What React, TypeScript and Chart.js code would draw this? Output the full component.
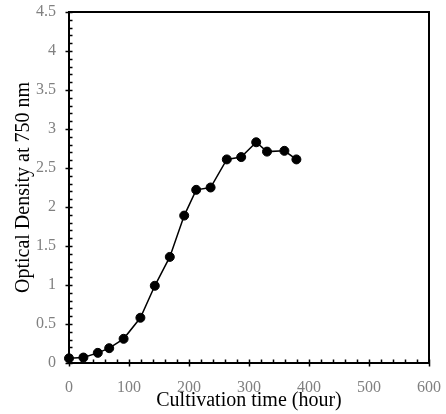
import React, { useEffect, useRef } from "react";
import { Chart, registerables } from "chart.js";

Chart.register(...registerables);

const hours = [0, 24, 48, 67, 91, 119, 143, 168, 192, 212, 236, 263, 287, 312, 330, 359, 379];
const od = [0.06, 0.07, 0.13, 0.19, 0.31, 0.58, 0.99, 1.36, 1.89, 2.22, 2.25, 2.61, 2.64, 2.83, 2.71, 2.72, 2.61];
const xMajor = [0, 100, 200, 300, 400, 500, 600];
const yMajor = [0, 0.5, 1, 1.5, 2, 2.5, 3, 3.5, 4, 4.5];
const yLabels = ["0", "0.5", "1", "1.5", "2", "2.5", "3", "3.5", "4", "4.5"];
const xMinorStep = 20;
const yMinorStep = 0.1;

const framePlugin = {
  id: "frame",
  beforeDatasetsDraw(chart: any) {
    const { ctx, chartArea, scales } = chart;
    const { left, right, top, bottom } = chartArea;
    const x = scales.x;
    const y = scales.y;
    ctx.save();
    ctx.strokeStyle = "#000";
    ctx.lineWidth = 2;
    ctx.strokeRect(left, top, right - left, bottom - top);
    ctx.lineWidth = 1.5;
    ctx.beginPath();
    const yMax = yMajor[yMajor.length - 1];
    for (let i = 0; i * yMinorStep <= yMax + 1e-9; i++) {
      const py = Math.round(y.getPixelForValue(i * yMinorStep)) + 0.5;
      ctx.moveTo(left, py);
      ctx.lineTo(left + 3.5, py);
    }
    yMajor.forEach((v) => {
      const py = Math.round(y.getPixelForValue(v)) + 0.5;
      ctx.moveTo(left - 3.5, py);
      ctx.lineTo(left + 3.5, py);
    });
    const xMax = xMajor[xMajor.length - 1];
    for (let i = 0; i * xMinorStep <= xMax + 1e-9; i++) {
      const px = Math.round(x.getPixelForValue(i * xMinorStep)) + 0.5;
      ctx.moveTo(px, bottom);
      ctx.lineTo(px, bottom - 3.5);
    }
    xMajor.forEach((v) => {
      const px = Math.round(x.getPixelForValue(v)) + 0.5;
      ctx.moveTo(px, bottom - 3.5);
      ctx.lineTo(px, bottom + 3.5);
    });
    ctx.stroke();
    ctx.restore();
  },
};

const serif = "'Liberation Serif', 'Times New Roman', serif";

export default function App() {
  const ref = useRef<HTMLCanvasElement | null>(null);
  useEffect(() => {
    if (!ref.current) return;
    const chart = new Chart(ref.current, {
      type: "line",
      data: {
        datasets: [
          {
            data: hours.map((h, i) => ({ x: h, y: od[i] })),
            borderColor: "#000",
            backgroundColor: "#000",
            borderWidth: 1.5,
            pointRadius: 4.5,
            pointBorderWidth: 1,
            pointBackgroundColor: "#000",
            pointBorderColor: "#000",
            tension: 0,
            clip: false as any,
          },
        ],
      },
      options: {
        animation: false,
        responsive: false,
        devicePixelRatio: 1,
        layout: { padding: { left: 0, top: 12, right: 17, bottom: 0 } },
        plugins: { legend: { display: false }, tooltip: { enabled: false } },
        scales: {
          x: {
            type: "linear",
            min: 0,
            max: 600,
            afterFit: (s: any) => {
              s.height = 51;
              s.paddingLeft = 0;
              s.paddingRight = 0;
            },
            afterBuildTicks: (s: any) => {
              s.ticks = xMajor.map((v) => ({ value: v }));
            },
            grid: { display: false, drawTicks: false },
            border: { display: false },
            ticks: {
              color: "#808080",
              font: { family: serif, size: 16 },
              padding: 15,
              maxRotation: 0,
            },
            title: {
              display: true,
              text: "Cultivation time (hour)",
              color: "#000",
              font: { family: serif, size: 20 },
              padding: { top: 0, bottom: 1 },
            },
          },
          y: {
            type: "linear",
            min: 0,
            max: 4.5,
            afterFit: (s: any) => {
              s.width = 69;
              s.paddingTop = 0;
              s.paddingBottom = 0;
            },
            afterBuildTicks: (s: any) => {
              s.ticks = yMajor.map((v) => ({ value: v }));
            },
            grid: { display: false, drawTicks: false },
            border: { display: false },
            ticks: {
              color: "#808080",
              font: { family: serif, size: 16 },
              padding: 13,
              callback: (_v: any, i: number) => yLabels[i],
            },
            title: {
              display: true,
              text: "Optical Density at 750 nm",
              color: "#000",
              font: { family: serif, size: 20 },
              padding: { top: 12, bottom: 0 },
            },
          },
        },
      },
      plugins: [framePlugin],
    });
    return () => chart.destroy();
  }, []);
  return (
    <div style={{ position: "fixed", left: 0, top: 0, width: 446, height: 414, background: "#fff" }}>
      <canvas ref={ref} width={446} height={414} style={{ display: "block" }} />
    </div>
  );
}
